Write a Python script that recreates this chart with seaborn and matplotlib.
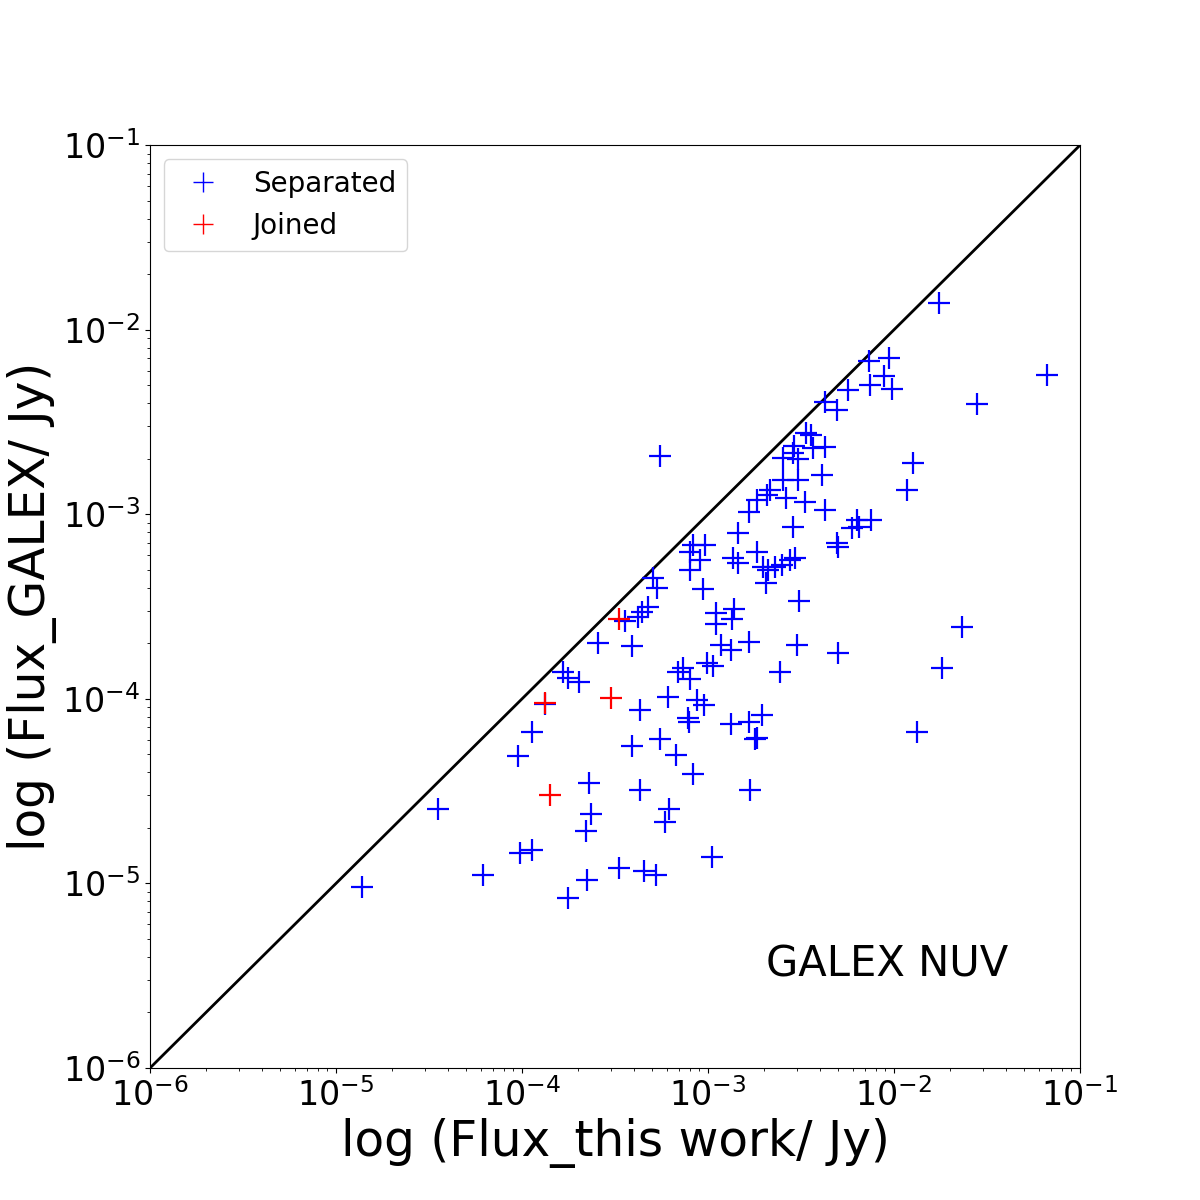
import numpy as np
import pandas as pd
import matplotlib
matplotlib.use("Agg")
import matplotlib.pyplot as plt
import seaborn as sns

# log10 flux values (this work, GALEX NUV)
sep_log_this = [
    -1.758, -2.134, -2.027, -2.054, -2.129, -2.011, -2.247, -2.371, -2.306, -1.177,
    -1.554, -1.898, -1.930, -1.634, -1.742, -1.876, -2.301, -3.258, -2.473, -2.446,
    -2.538, -2.435, -2.371, -2.543, -2.597, -2.516, -2.387, -2.516, -2.597, -2.581,
    -2.478, -2.371, -2.543, -2.199, -2.124, -2.226, -2.188, -2.306, -2.301, -2.532,
    -2.559, -2.602, -2.667, -2.737, -2.683, -2.780, -2.839, -3.016, -3.081, -3.097,
    -3.043, -3.097, -2.866, -2.839, -2.737, -2.704, -2.677, -2.640, -2.688, -3.027,
    -2.511, -2.957, -2.860, -2.871, -2.957, -3.296, -3.274, -3.323, -3.355, -3.376,
    -3.446, -3.591, -3.409, -2.930, -2.876, -2.780, -2.522, -3.005, -2.973, -3.134,
    -3.161, -3.097, -2.613, -3.780, -3.753, -3.694, -3.215, -3.059, -3.022, -3.876,
    -3.366, -3.108, -3.102, -2.876, -2.780, -2.710, -2.747, -2.737, -3.946, -4.022,
    -3.409, -3.258, -3.172, -3.081, -3.640, -3.366, -2.774, -3.629, -3.656, -3.210,
    -3.231, -4.452, -4.011, -3.946, -2.978, -4.210, -3.651, -3.478, -3.344, -3.280,
    -4.860, -3.753,
]
sep_log_galex = [
    -1.856, -2.170, -2.154, -2.251, -2.300, -2.322, -2.327, -2.392, -2.436, -2.246,
    -2.403, -2.723, -2.869, -3.611, -3.833, -4.180, -3.752, -2.685, -2.560, -2.571,
    -2.631, -2.641, -2.636, -2.668, -2.696, -2.701, -2.788, -2.815, -2.815, -2.912,
    -2.934, -2.977, -3.069, -3.031, -3.031, -3.075, -3.069, -3.156, -3.178, -3.237,
    -3.248, -3.275, -2.869, -2.923, -2.896, -2.988, -3.102, -3.167, -3.167, -3.205,
    -3.248, -3.302, -3.237, -3.264, -3.205, -3.286, -3.302, -3.286, -3.373, -3.405,
    -3.470, -3.535, -3.514, -3.568, -3.595, -3.346, -3.400, -3.503, -3.530, -3.557,
    -3.579, -3.698, -3.714, -3.709, -3.736, -3.692, -3.709, -3.806, -3.822, -3.833,
    -3.855, -3.893, -3.855, -3.855, -3.887, -3.909, -3.990, -4.006, -4.034, -4.028,
    -4.061, -4.104, -4.126, -4.136, -4.126, -4.088, -4.218, -4.212, -4.180, -4.310,
    -4.256, -4.218, -4.304, -4.407, -4.456, -4.494, -4.494, -4.624, -4.716, -4.597,
    -4.667, -4.597, -4.835, -4.819, -4.857, -4.955, -4.982, -4.917, -4.933, -4.955,
    -5.019, -5.079,
]
join_log_this = [-3.478, -3.876, -3.522, -3.849]
join_log_galex = [-3.568, -4.023, -3.996, -4.521]

groups = ["Separated", "Joined"]
colors = ["blue", "red"]
axis_ticks = [1e-6, 1e-5, 1e-4, 1e-3, 1e-2, 1e-1]

df = pd.DataFrame({
    "this": 10 ** np.array(sep_log_this + join_log_this),
    "galex": 10 ** np.array(sep_log_galex + join_log_galex),
    "group": [groups[0]] * len(sep_log_this) + [groups[1]] * len(join_log_this),
})

fig = plt.figure(figsize=(12, 12), dpi=100)
ax = fig.add_subplot(111)
fig.subplots_adjust(left=0.125, right=0.9, bottom=0.11, top=0.879)

ax.plot([axis_ticks[0], axis_ticks[-1]], [axis_ticks[0], axis_ticks[-1]],
        color="black", lw=2, zorder=1)

sns.scatterplot(data=df, x="this", y="galex", hue="group",
                palette=dict(zip(groups, colors)), hue_order=groups,
                marker="+", s=260, linewidth=1.6, ax=ax, zorder=3, legend=False)

ax.set_xscale("log")
ax.set_yscale("log")
ax.set_xlim(axis_ticks[0], axis_ticks[-1])
ax.set_ylim(axis_ticks[0], axis_ticks[-1])
ax.set_xticks(axis_ticks)
ax.set_yticks(axis_ticks)
ax.tick_params(axis="both", which="major", labelsize=24)

ax.set_xlabel("log (Flux_this work/ Jy)", fontsize=35)
ax.set_ylabel("log (Flux_GALEX/ Jy)", fontsize=35)

handles = [plt.Line2D([], [], ls="none", marker="+", color=c, markersize=15, mew=1.0)
           for c in colors]
ax.legend(handles, groups, loc="upper left", fontsize=20)

ax.text(0.662, 0.112, "GALEX NUV", transform=ax.transAxes, fontsize=30,
        ha="left", va="center")

fig.savefig("out.png", dpi=100)
